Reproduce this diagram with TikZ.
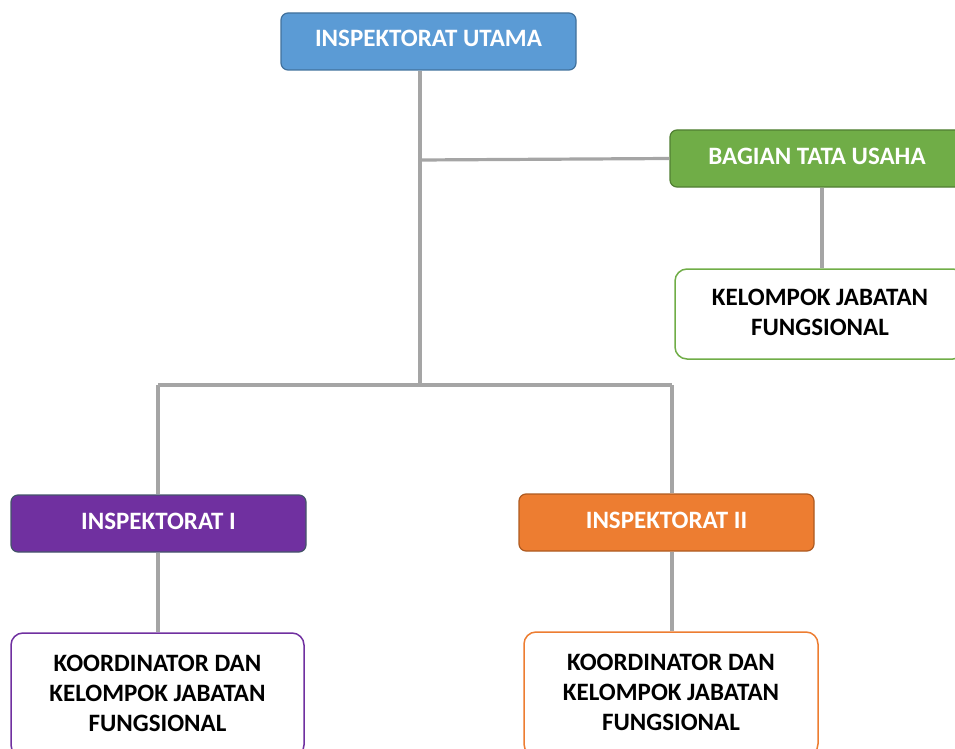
\documentclass[tikz,border=0pt]{standalone}
\usepackage{fontspec}
\setmainfont{Carlito}
\definecolor{cblue}{HTML}{5B9BD5}
\definecolor{cblueb}{HTML}{41719C}
\definecolor{cgreen}{HTML}{70AD47}
\definecolor{cgreenb}{HTML}{507E32}
\definecolor{cpurple}{HTML}{7030A0}
\definecolor{cpurpleb}{HTML}{44546A}
\definecolor{corange}{HTML}{ED7D31}
\definecolor{corangeb}{HTML}{AE5A21}
\definecolor{cline}{HTML}{A5A5A5}
\newcommand{\mlines}[2]{\raisebox{#1}{\begin{tabular}{@{}c@{}}#2\end{tabular}}}
\begin{document}
\begin{tikzpicture}[x=1pt,y=-1pt,
  head/.style={draw, line width=1.2pt, rounded corners=7pt, text=white, font=\bfseries\fontsize{25}{30}\selectfont, inner sep=0pt, text height=16pt, text depth=5pt},
  sub/.style={draw, line width=1.5pt, fill=white, rounded corners=12pt, text=black, font=\bfseries\fontsize{25}{30}\selectfont, inner sep=0pt},
  conn/.style={draw=cline, line width=3.2pt}]
\useasboundingbox (0,0) rectangle (955,749);
\clip (0,0) rectangle (955,749);
\coordinate (j1) at (420,160);
\coordinate (j2) at (420,385);
\coordinate (l1) at (158,385);
\coordinate (r1) at (672,385);
% boxes
\node[head, fill=cblue, draw=cblueb, minimum width=295pt, minimum height=57pt] (utama) at (428.5,41.5) {INSPEKTORAT UTAMA};
\node[head, fill=cgreen, draw=cgreenb, minimum width=294pt, minimum height=57pt] (tu) at (817,158.5) {BAGIAN TATA USAHA};
\node[sub, draw=cgreen, minimum width=290pt, minimum height=90pt] (kjf) at (820,314) {\mlines{2pt}{KELOMPOK JABATAN\\FUNGSIONAL}};
\node[head, fill=cpurple, draw=cpurpleb, minimum width=295pt, minimum height=57pt] (ins1) at (158.5,523.5) {INSPEKTORAT I};
\node[head, fill=corange, draw=corangeb, minimum width=295pt, minimum height=57pt] (ins2) at (666.5,522.5) {INSPEKTORAT II};
\node[sub, draw=cpurple, minimum width=293pt, minimum height=124pt] (k1) at (157.5,695) {\mlines{5pt}{KOORDINATOR DAN\\KELOMPOK JABATAN\\FUNGSIONAL}};
\node[sub, draw=corange, minimum width=294pt, minimum height=124pt] (k2) at (671,694) {\mlines{5pt}{KOORDINATOR DAN\\KELOMPOK JABATAN\\FUNGSIONAL}};
% connectors
\draw[conn] (utama.south -| j2) -- (j2);
\draw[conn] (j1) -- (tu.west);
\draw[conn] (tu.south -| 822,0) -- (kjf.north -| 822,0);
\draw[conn] (l1) -- (r1);
\draw[conn] (l1) -- (ins1.north -| l1);
\draw[conn] (r1) -- (ins2.north -| r1);
\draw[conn] (ins1.south -| l1) -- (k1.north -| l1);
\draw[conn] (ins2.south -| r1) -- (k2.north -| r1);
\end{tikzpicture}
\end{document}
